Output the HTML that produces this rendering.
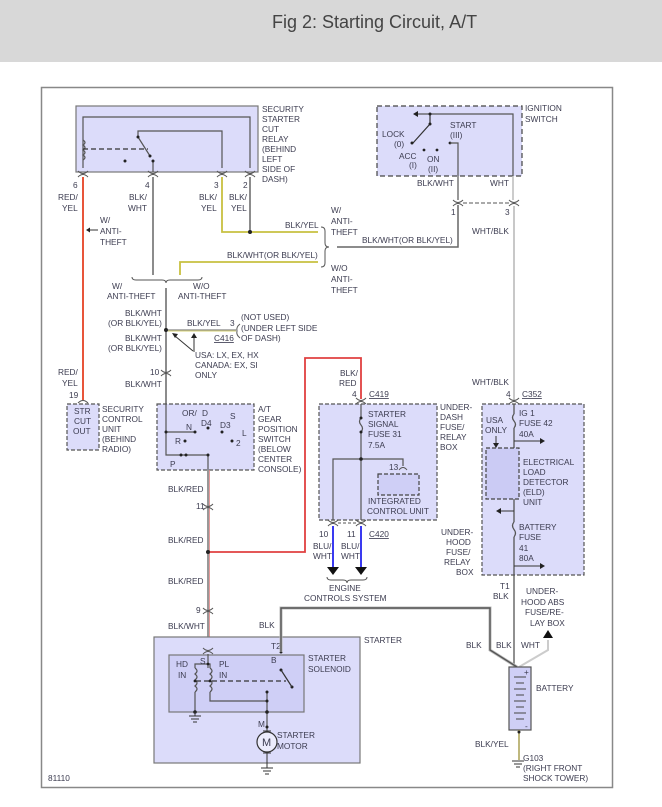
<!DOCTYPE html>
<html><head><style>
html,body{margin:0;padding:0;background:#fff;}
svg{display:block;}
text{font-family:"Liberation Sans",sans-serif;font-size:8.3px;fill:#3c3c50;}
path{fill:none;}
path.f{fill:#222;}
</style></head><body>
<svg width="662" height="807" viewBox="0 0 662 807" xmlns="http://www.w3.org/2000/svg">
<rect x="0" y="0" width="662" height="62" fill="#d8d8d8"/>
<text x="272" y="28" style="font-size:18px;fill:#444">Fig 2: Starting Circuit, A/T</text>
<rect x="41.5" y="87.5" width="571" height="700" fill="none" stroke="#888" stroke-width="1.5"/>

<defs>
<g id="cn"><path d="M-5,-3 q5,5 10,0 M-5,3 q5,-5 10,0" fill="none" stroke="#555" stroke-width="1"/></g>
</defs>

<!-- Security starter cut relay -->
<rect x="76" y="106" width="182" height="66" fill="#dcdcfa" stroke="#777" stroke-width="1.2"/>
<g fill="none" stroke="#555" stroke-width="1.2">
<path d="M83,168 V117 H250 V168"/>
<path d="M83,140 q4,2.5 0,5 q4,2.5 0,5 q4,2.5 0,5 q4,2.5 0,5"/>
<path d="M138,137 V131 H222 V168"/>
<path d="M138,137 L150,156"/>
<path d="M153,161 V172"/>
</g>
<path d="M83,149 H148" stroke="#333" stroke-width="1.2" stroke-dasharray="5,3"/>
<circle cx="125" cy="161" r="1.5" fill="#222"/><circle cx="138" cy="137" r="1.5" fill="#222"/><circle cx="150" cy="156" r="1.5" fill="#222"/><circle cx="153" cy="161" r="1.5" fill="#222"/>
<use href="#cn" x="83" y="174"/><use href="#cn" x="153" y="174"/><use href="#cn" x="222" y="174"/><use href="#cn" x="250" y="174"/>
<g><text x="262" y="112">SECURITY</text><text x="262" y="122">STARTER</text><text x="262" y="132">CUT</text><text x="262" y="142">RELAY</text><text x="262" y="152">(BEHIND</text><text x="262" y="162">LEFT</text><text x="262" y="172">SIDE OF</text><text x="262" y="182">DASH)</text></g>
<text x="73" y="188">6</text><text x="58" y="200">RED/</text><text x="62" y="211">YEL</text>
<text x="145" y="188">4</text><text x="129" y="200">BLK/</text><text x="128" y="211">WHT</text>
<text x="214" y="188">3</text><text x="199" y="200">BLK/</text><text x="201" y="211">YEL</text>
<text x="243" y="188">2</text><text x="229" y="200">BLK/</text><text x="231" y="211">YEL</text>

<!-- red wire -->
<path d="M83,177 V400" stroke="#e8553a" stroke-width="2"/>
<path d="M98,230 H88" stroke="#333" stroke-width="1"/><path class="f" d="M86,230 l4,-2.5 v5z"/>
<text x="100" y="223">W/</text><text x="100" y="234">ANTI-</text><text x="100" y="245">THEFT</text>

<!-- wires from relay -->
<path d="M153,177 V275" stroke="#666" stroke-width="1.5"/>
<path d="M222,177 V232 H318" stroke="#c8c040" stroke-width="1.8"/>
<path d="M250,177 V232" stroke="#666" stroke-width="1.5"/>
<circle cx="250" cy="232" r="2" fill="#222"/>
<text x="285" y="228">BLK/YEL</text>
<path d="M180,275 V262 H318" stroke="#c8c040" stroke-width="1.8"/>
<text x="227" y="258">BLK/WHT(OR BLK/YEL)</text>
<path d="M321,227 q4,0 4,4 v12 q0,4 4,4 q-4,0 -4,4 v12 q0,4 -4,4" stroke="#555"/>
<text x="331" y="213">W/</text><text x="331" y="224">ANTI-</text><text x="331" y="235">THEFT</text>
<text x="331" y="271">W/O</text><text x="331" y="282">ANTI-</text><text x="331" y="293">THEFT</text>
<path d="M337,247 H458 V205" stroke="#666" stroke-width="1.5"/>
<text x="362" y="243">BLK/WHT(OR BLK/YEL)</text>
<path d="M132,277 q0,3 4,3 h26 q4,0 4,3 q0,-3 4,-3 h28 q4,0 4,-3" stroke="#555"/>
<text x="112" y="289">W/</text><text x="107" y="299">ANTI-THEFT</text>
<text x="193" y="289">W/O</text><text x="178" y="299">ANTI-THEFT</text>
<path d="M166,288 V432" stroke="#666" stroke-width="1.5"/>
<circle cx="166" cy="330" r="2" fill="#222"/>
<path d="M168,330 H236" stroke="#999" stroke-width="1.6"/>
<path d="M168,331 H236" stroke="#c8c040" stroke-width="0.8"/>
<text x="125" y="316">BLK/WHT</text><text x="108" y="326">(OR BLK/YEL)</text>
<text x="125" y="341">BLK/WHT</text><text x="108" y="351">(OR BLK/YEL)</text>
<text x="187" y="326">BLK/YEL</text><text x="230" y="326">3</text>
<text x="214" y="341" style="text-decoration:underline">C416</text>
<path d="M240,324 q-4,3 -3,7 q-1,4 3,7" stroke="#555"/>
<text x="241" y="320">(NOT USED)</text><text x="241" y="331">(UNDER LEFT SIDE</text><text x="241" y="341">OF DASH)</text>
<path d="M193,351 L175,336" stroke="#333"/><path class="f" d="M172,333 l6,1 l-3,4z"/>
<path d="M194,352 V337" stroke="#333"/><path class="f" d="M194,333 l-3,5 h6z"/>
<text x="195" y="358">USA: LX, EX, HX</text><text x="195" y="368">CANADA: EX, SI</text><text x="195" y="378">ONLY</text>
<use href="#cn" x="166" y="373"/>
<text x="150" y="375">10</text><text x="125" y="387">BLK/WHT</text>
<text x="58" y="375">RED/</text><text x="62" y="386">YEL</text><text x="69" y="398">19</text>
<path d="M78,403 q5,-5 10,0" stroke="#555"/>

<!-- STR unit -->
<rect x="67" y="404" width="32" height="46" fill="#dcdcfa" stroke="#555" stroke-width="1.2" stroke-dasharray="4,2"/>
<text x="74" y="414">STR</text><text x="74" y="424">CUT</text><text x="73" y="434">OUT</text>
<text x="102" y="412">SECURITY</text><text x="102" y="422">CONTROL</text><text x="102" y="432">UNIT</text><text x="102" y="442">(BEHIND</text><text x="102" y="452">RADIO)</text>

<!-- gear switch -->
<rect x="157" y="404" width="97" height="66" fill="#dcdcfa" stroke="#555" stroke-width="1.2" stroke-dasharray="4,2"/>
<path d="M166,404 V455 H208 V470 M166,432 H195" stroke="#555" stroke-width="1.2"/>
<g fill="#222"><circle cx="195" cy="432" r="1.5"/><circle cx="166" cy="432" r="1.5"/><circle cx="208" cy="428" r="1.5"/><circle cx="222" cy="432" r="1.5"/><circle cx="185" cy="441" r="1.5"/><circle cx="232" cy="441" r="1.5"/><circle cx="181" cy="455" r="1.5"/><circle cx="186" cy="455" r="1.5"/><circle cx="208" cy="455" r="1.5"/></g>
<text x="182" y="416">OR/</text><text x="202" y="416">D</text><text x="201" y="426">D4</text><text x="186" y="430">N</text><text x="230" y="419">S</text><text x="220" y="428">D3</text><text x="242" y="436">L</text><text x="175" y="444">R</text><text x="236" y="446">2</text><text x="170" y="467">P</text>
<text x="258" y="412">A/T</text><text x="258" y="422">GEAR</text><text x="258" y="432">POSITION</text><text x="258" y="442">SWITCH</text><text x="258" y="452">(BELOW</text><text x="258" y="462">CENTER</text><text x="258" y="472">CONSOLE)</text>

<!-- BLK/RED -->
<path d="M208,470 V649" stroke="#777" stroke-width="1.5"/>
<path d="M209.5,470 V649" stroke="#e08080" stroke-width="0.8"/>
<use href="#cn" x="208" y="507"/><use href="#cn" x="208" y="611"/>
<text x="168" y="492">BLK/RED</text><text x="196" y="509">11</text>
<text x="168" y="543">BLK/RED</text><text x="168" y="584">BLK/RED</text>
<text x="196" y="613">9</text><text x="168" y="629">BLK/WHT</text>
<circle cx="208" cy="552" r="2" fill="#222"/>
<path d="M210,552 H305 V358 H361 V399" stroke="#e04040" stroke-width="1.8"/>
<text x="340" y="376">BLK/</text><text x="339" y="386">RED</text><text x="352" y="397">4</text>
<text x="369" y="397" style="text-decoration:underline">C419</text>
<use href="#cn" x="361" y="401"/>

<!-- under dash box -->
<rect x="319" y="404" width="118" height="116" fill="#dcdcfa" stroke="#555" stroke-width="1.2" stroke-dasharray="4,2"/>
<path d="M361,404 V418 M361,432 V520 M333,520 V459 H403 V466" stroke="#555" stroke-width="1.2"/>
<path d="M361,418 q-3,3.5 0,7 q3,3.5 0,7" stroke="#555" stroke-width="1.2"/>
<circle cx="361" cy="418" r="1.5" fill="#222"/><circle cx="361" cy="432" r="1.5" fill="#222"/><circle cx="361" cy="459" r="1.8" fill="#222"/>
<path d="M399,470 q4,-5 8,0" stroke="#555"/>
<text x="368" y="417">STARTER</text><text x="368" y="427">SIGNAL</text><text x="368" y="437">FUSE 31</text><text x="368" y="448">7.5A</text>
<text x="389" y="470">13</text>
<rect x="378" y="474" width="41" height="21" fill="#cfcff6" stroke="#444" stroke-width="1.2" stroke-dasharray="4,2"/>
<text x="368" y="504">INTEGRATED</text><text x="367" y="514">CONTROL UNIT</text>
<text x="440" y="410">UNDER-</text><text x="440" y="420">DASH</text><text x="440" y="430">FUSE/</text><text x="440" y="440">RELAY</text><text x="440" y="450">BOX</text>
<use href="#cn" x="333" y="523"/><use href="#cn" x="361" y="523"/>
<path d="M338,523 H356" stroke="#555" stroke-dasharray="3,2"/>
<text x="319" y="537">10</text><text x="347" y="537">11</text>
<text x="369" y="537" style="text-decoration:underline">C420</text>
<path d="M333,526 V568 M361,526 V568" stroke="#3a3af0" stroke-width="2"/>
<path class="f" d="M327,567 h12 l-6,8z M355,567 h12 l-6,8z" style="fill:#111"/>
<text x="313" y="549">BLU/</text><text x="313" y="559">WHT</text><text x="341" y="549">BLU/</text><text x="341" y="559">WHT</text>
<path d="M327,577 q0,3 4,3 h12 q4,0 4,3 q0,-3 4,-3 h12 q4,0 4,-3" stroke="#555"/>
<text x="329" y="591">ENGINE</text><text x="304" y="601">CONTROLS SYSTEM</text>

<!-- ignition switch -->
<rect x="377" y="106" width="145" height="70" fill="#dcdcfa" stroke="#444" stroke-width="1.2" stroke-dasharray="5,3"/>
<path d="M417,114 H513 V176" stroke="#555" stroke-width="1.2"/>
<path class="f" d="M413,114 l5,-3 v6z"/>
<path d="M430,114 V124 L413,143" stroke="#333" stroke-width="1.2"/>
<circle cx="430" cy="114" r="1.5" fill="#222"/><circle cx="430" cy="124" r="1.5" fill="#222"/><circle cx="412" cy="143" r="1.5" fill="#222"/>
<circle cx="424" cy="150" r="1.4" fill="#222"/><circle cx="437" cy="150" r="1.4" fill="#222"/><circle cx="450" cy="143" r="1.4" fill="#222"/>
<path d="M450,143 H458 V200" stroke="#555" stroke-width="1.2"/>
<text x="382" y="137">LOCK</text><text x="394" y="147">(0)</text><text x="399" y="159">ACC</text><text x="409" y="168">(I)</text>
<text x="427" y="162">ON</text><text x="428" y="172">(II)</text><text x="450" y="128">START</text><text x="450" y="138">(III)</text>
<text x="525" y="111">IGNITION</text><text x="525" y="122">SWITCH</text>
<text x="417" y="186">BLK/WHT</text><text x="490" y="186">WHT</text>
<path d="M513,176 V200" stroke="#bbb" stroke-width="1.5"/>
<use href="#cn" x="458" y="203"/><use href="#cn" x="514" y="203"/>
<path d="M463,203 H509" stroke="#777" stroke-width="1.2" stroke-dasharray="4,2"/>
<text x="451" y="215">1</text><text x="505" y="215">3</text>
<text x="472" y="234">WHT/BLK</text>
<path d="M514,206 V400" stroke="#bbb" stroke-width="1.6"/>
<text x="472" y="385">WHT/BLK</text><text x="506" y="397">4</text>
<text x="522" y="397" style="text-decoration:underline">C352</text>
<use href="#cn" x="514" y="401"/>

<!-- under hood box -->
<rect x="482" y="404" width="102" height="171" fill="#dcdcfa" stroke="#555" stroke-width="1.2" stroke-dasharray="4,2"/>
<path d="M514,404 V414 M514,428 V522 M514,537 V668" stroke="#555" stroke-width="1.3"/>
<path d="M514,414 q-3,3.5 0,7 q3,3.5 0,7 M514,522 q-3,3.5 0,7.5 q3,3.5 0,7.5" stroke="#555" stroke-width="1.3"/>
<path d="M514,441 H541 M514,511 H500 M514,566 H541" stroke="#333"/>
<path class="f" d="M545,441 l-5,-3 v6z M496,511 l5,-3 v6z M545,566 l-5,-3 v6z"/>
<text x="519" y="416">IG 1</text><text x="519" y="426">FUSE 42</text><text x="519" y="437">40A</text>
<text x="486" y="423">USA</text><text x="485" y="433">ONLY</text>
<path d="M496,436 V444" stroke="#333"/><path class="f" d="M496,448 l-3,-5 h6z"/>
<rect x="486" y="448" width="33" height="51" fill="#cbcbf4" stroke="#444" stroke-width="1.2" stroke-dasharray="4,2"/>
<text x="523" y="465">ELECTRICAL</text><text x="523" y="475">LOAD</text><text x="523" y="485">DETECTOR</text><text x="523" y="495">(ELD)</text><text x="523" y="505">UNIT</text>
<text x="519" y="530">BATTERY</text><text x="519" y="540">FUSE</text><text x="519" y="551">41</text><text x="519" y="561">80A</text>
<text x="441" y="535">UNDER-</text><text x="446" y="545">HOOD</text><text x="446" y="555">FUSE/</text><text x="444" y="565">RELAY</text><text x="456" y="575">BOX</text>
<text x="500" y="589">T1</text><text x="493" y="599">BLK</text>
<text x="526" y="594">UNDER-</text><text x="521" y="605">HOOD ABS</text><text x="525" y="615">FUSE/RE-</text><text x="530" y="626">LAY BOX</text>

<!-- starter -->
<rect x="154" y="637" width="206" height="126" fill="#dcdcfa" stroke="#777" stroke-width="1.2"/>
<rect x="169" y="655" width="135" height="57" fill="#cfcff6" stroke="#777" stroke-width="1.2"/>
<text x="364" y="643">STARTER</text><text x="308" y="661">STARTER</text><text x="308" y="672">SOLENOID</text>
<use href="#cn" x="208" y="651"/>
<path d="M208,654 V668 M195,712 V692 M195,668 V664 H210 V668 M210,692 V701 H267 V732 M267,692 V701" stroke="#555" stroke-width="1.2"/>
<path d="M195,668 q4,3 0,6 q4,3 0,6 q4,3 0,6 q4,3 0,6 M210,668 q4,3 0,6 q4,3 0,6 q4,3 0,6 q4,3 0,6" stroke="#555" stroke-width="1.2"/>
<path d="M196,681 H286" stroke="#333" stroke-dasharray="5,3" stroke-width="1.2"/>
<g fill="#222"><circle cx="208" cy="664" r="1.4"/><circle cx="195" cy="681" r="1.4"/><circle cx="210" cy="681" r="1.4"/><circle cx="267" cy="692" r="1.5"/><circle cx="267" cy="701" r="1.5"/><circle cx="267" cy="712" r="1.8"/><circle cx="267" cy="727" r="1.5"/><circle cx="195" cy="712" r="1.8"/><circle cx="281" cy="652" r="1.5"/><circle cx="281" cy="670" r="1.5"/><circle cx="292" cy="687" r="1.5"/></g>
<path d="M281,670 L292,687" stroke="#333" stroke-width="1.2"/>
<text x="176" y="667">HD</text><text x="178" y="678">IN</text><text x="200" y="664">S</text><text x="219" y="667">PL</text><text x="219" y="678">IN</text>
<text x="271" y="663">B</text><text x="271" y="649">T2</text><text x="258" y="727">M</text>
<circle cx="267" cy="742" r="10" fill="#ececfc" stroke="#333" stroke-width="1.2"/>
<text x="262" y="746" style="font-size:11px">M</text>
<path d="M263,731 h8 M263,753 h8 M267,752 V768 M261,768 h12 M263,771 h8 M265,774 h4 M195,712 V716 M189,716 h12 M191,719 h8 M193,722 h4" stroke="#333"/>
<text x="277" y="738">STARTER</text><text x="277" y="749">MOTOR</text>
<text x="48" y="781">81110</text>
<text x="259" y="628">BLK</text>

<!-- BLK to battery -->
<path d="M281,652 V608 H490 V650 L517,667" stroke="#bbb" stroke-width="3"/>
<path d="M281,652 V608 H490 V650 L517,667" stroke="#555" stroke-width="1.4"/>
<path d="M519,667 L548,650 V640" stroke="#ccc" stroke-width="2"/>
<path class="f" d="M548,630 l-5,8 h10z" style="fill:#111"/>
<text x="466" y="648">BLK</text><text x="496" y="648">BLK</text><text x="521" y="648">WHT</text>
<!-- battery -->
<rect x="509" y="667" width="22" height="63" fill="#cfcff6" stroke="#555" stroke-width="1.2"/>
<path d="M514,677 h12 M516,683 h8 M514,689 h12 M516,695 h8 M514,701 h12 M516,707 h8 M514,713 h12 M516,719 h8" stroke="#444" stroke-width="1.1"/>
<text x="524" y="675">+</text><text x="525" y="729">-</text>
<text x="536" y="691">BATTERY</text>
<path d="M519,730 V760" stroke="#b8b070" stroke-width="1.8"/>
<circle cx="519" cy="732" r="1.5" fill="#222"/>
<path d="M512,761 h12 M514,764 h8 M516,767 h4" stroke="#333"/>
<text x="475" y="747">BLK/YEL</text>
<text x="523" y="761">G103</text><text x="523" y="771">(RIGHT FRONT</text><text x="523" y="781">SHOCK TOWER)</text>
</svg>
</body></html>
